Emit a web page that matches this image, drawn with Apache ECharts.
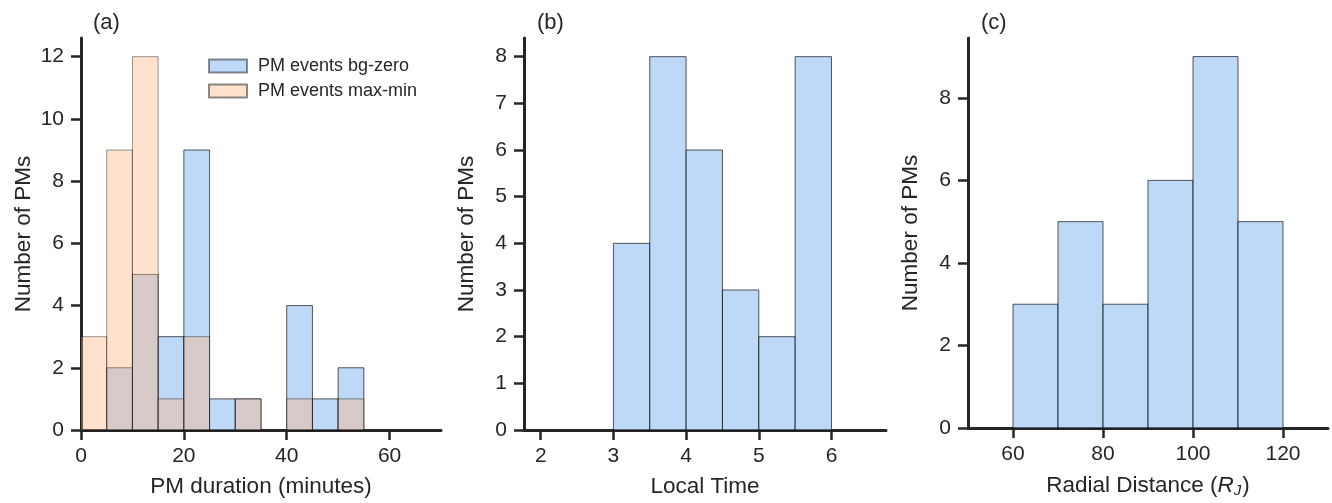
<!DOCTYPE html>
<html style="height: 100%">
  <head>
    <meta charset="utf-8" />
  </head>
  <body style="height: 100%; margin: 0; background: #fff">
    <div id="container" style="width: 1332px; height: 503px"></div>

    <script
      type="text/javascript"
      src="https://cdn.jsdelivr.net/npm/echarts@6/dist/echarts.min.js"
    ></script>

    <script type="text/javascript">
      // (a) PM duration histogram, bins of 5 minutes
      var durationEdges = [0, 5, 10, 15, 20, 25, 30, 35, 40, 45, 50, 55];
      var bgZeroCounts = [0, 2, 5, 3, 9, 1, 1, 0, 4, 1, 2];
      var maxMinCounts = [3, 9, 12, 1, 3, 0, 1, 0, 1, 0, 1];
      var durationTicks = [0, 20, 40, 60];
      var countTicksA = [0, 2, 4, 6, 8, 10, 12];

      // (b) local time
      var localTimeEdges = [3, 3.5, 4, 4.5, 5, 5.5, 6];
      var localTimeCounts = [4, 8, 6, 3, 2, 8];
      var localTimeTicks = [2, 3, 4, 5, 6];
      var countTicksB = [0, 1, 2, 3, 4, 5, 6, 7, 8];

      // (c) radial distance
      var radialEdges = [60, 70, 80, 90, 100, 110, 120];
      var radialCounts = [3, 5, 3, 6, 9, 5];
      var radialTicks = [60, 80, 100, 120];
      var countTicksC = [0, 2, 4, 6, 8];

      var FONT = "Liberation Sans, Arial, sans-serif";
      var INK = "#262626";
      var BLUE = "rgba(161,201,244,0.7)";
      var ORANGE = "rgba(255,180,130,0.4)";
      var TITLE_SIZE = 22.5;
      var TICK_SIZE = 21;

      function bins(edges, counts) {
        var out = [];
        for (var i = 0; i < counts.length; i++) {
          out.push([edges[i], edges[i + 1], counts[i]]);
        }
        return out;
      }

      function renderBin(params, api) {
        var n = api.value(2);
        if (!n) return;
        var p0 = api.coord([api.value(0), n]);
        var p1 = api.coord([api.value(1), 0]);
        return {
          type: "rect",
          shape: { x: p0[0], y: p0[1], width: p1[0] - p0[0], height: p1[1] - p0[1] },
          style: api.style()
        };
      }

      function xAxis(idx, min, max, ticks, name) {
        return {
          type: "value",
          gridIndex: idx,
          min: min,
          max: max,
          name: name,
          nameLocation: "middle",
          nameGap: 45,
          nameTextStyle: {
            fontFamily: FONT,
            fontSize: TITLE_SIZE,
            color: INK,
            rich: {
              i: { fontFamily: FONT, fontSize: TITLE_SIZE, fontStyle: "italic", color: INK },
              sub: { fontFamily: FONT, fontSize: 15, fontStyle: "italic", color: INK, padding: [10, 1, 0, 0] }
            }
          },
          axisLine: { lineStyle: { color: INK, width: 3 } },
          axisTick: { length: 10, lineStyle: { color: INK, width: 2.5 }, customValues: ticks },
          axisLabel: { fontFamily: FONT, fontSize: TICK_SIZE, color: INK, margin: 16, customValues: ticks },
          splitLine: { show: false }
        };
      }

      function yAxis(idx, max, ticks) {
        return {
          type: "value",
          gridIndex: idx,
          min: 0,
          max: max,
          name: "Number of PMs",
          nameLocation: "middle",
          nameGap: 46,
          nameTextStyle: { fontFamily: FONT, fontSize: TITLE_SIZE, color: INK },
          axisLine: { show: true, lineStyle: { color: INK, width: 3 } },
          axisTick: { show: true, length: 10, lineStyle: { color: INK, width: 2.5 }, customValues: ticks },
          axisLabel: { fontFamily: FONT, fontSize: TICK_SIZE, color: INK, margin: 17, customValues: ticks },
          splitLine: { show: false }
        };
      }

      var panelTitle = { fontFamily: FONT, fontSize: 22, fontWeight: "normal", color: INK };

      var dom = document.getElementById("container");
      var myChart = echarts.init(dom, null, { renderer: "canvas" });

      var option = {
        backgroundColor: "#fff",
        animation: false,
        title: [
          { text: "(a)", left: 88, top: 7, textStyle: panelTitle },
          { text: "(b)", left: 532, top: 7, textStyle: panelTitle },
          { text: "(c)", left: 976, top: 7, textStyle: panelTitle }
        ],
        legend: {
          left: 203,
          top: 52,
          orient: "vertical",
          itemWidth: 38,
          itemHeight: 13,
          itemGap: 7,
          icon: "rect",
          textStyle: { fontFamily: FONT, fontSize: 18, lineHeight: 18, color: INK, padding: [0, 0, 0, 6] },
          data: [
            { name: "PM events bg-zero", itemStyle: { borderColor: "rgba(0,0,0,0.45)" } },
            { name: "PM events max-min", itemStyle: { borderColor: "rgba(0,0,0,0.45)" } }
          ]
        },
        grid: [
          { left: 81, top: 38, width: 360, height: 395 },
          { left: 524, top: 38, width: 362, height: 395 },
          { left: 968, top: 38, width: 360, height: 395 }
        ],
        xAxis: [
          xAxis(0, 0, 70, durationTicks, "PM duration (minutes)"),
          xAxis(1, 1.77, 6.75, localTimeTicks, "Local Time"),
          xAxis(2, 50, 130, radialTicks, "Radial Distance ({i|R}{sub|J})")
        ],
        yAxis: [yAxis(0, 12.6, countTicksA), yAxis(1, 8.4, countTicksB), yAxis(2, 9.45, countTicksC)],
        series: [
          {
            name: "PM events bg-zero",
            type: "custom",
            xAxisIndex: 0,
            yAxisIndex: 0,
            renderItem: renderBin,
            encode: { x: [0, 1], y: 2 },
            itemStyle: { color: BLUE, borderColor: "rgba(0,0,0,0.65)", borderWidth: 1 },
            data: bins(durationEdges, bgZeroCounts)
          },
          {
            name: "PM events max-min",
            type: "custom",
            xAxisIndex: 0,
            yAxisIndex: 0,
            renderItem: renderBin,
            encode: { x: [0, 1], y: 2 },
            itemStyle: { color: ORANGE, borderColor: "rgba(0,0,0,0.4)", borderWidth: 1 },
            data: bins(durationEdges, maxMinCounts)
          },
          {
            name: "local time",
            type: "custom",
            xAxisIndex: 1,
            yAxisIndex: 1,
            renderItem: renderBin,
            encode: { x: [0, 1], y: 2 },
            itemStyle: { color: BLUE, borderColor: "rgba(0,0,0,0.65)", borderWidth: 1 },
            data: bins(localTimeEdges, localTimeCounts)
          },
          {
            name: "radial distance",
            type: "custom",
            xAxisIndex: 2,
            yAxisIndex: 2,
            renderItem: renderBin,
            encode: { x: [0, 1], y: 2 },
            itemStyle: { color: BLUE, borderColor: "rgba(0,0,0,0.65)", borderWidth: 1 },
            data: bins(radialEdges, radialCounts)
          }
        ]
      };

      if (option && typeof option === "object") {
        myChart.setOption(option);
      }
    </script>
  </body>
</html>
